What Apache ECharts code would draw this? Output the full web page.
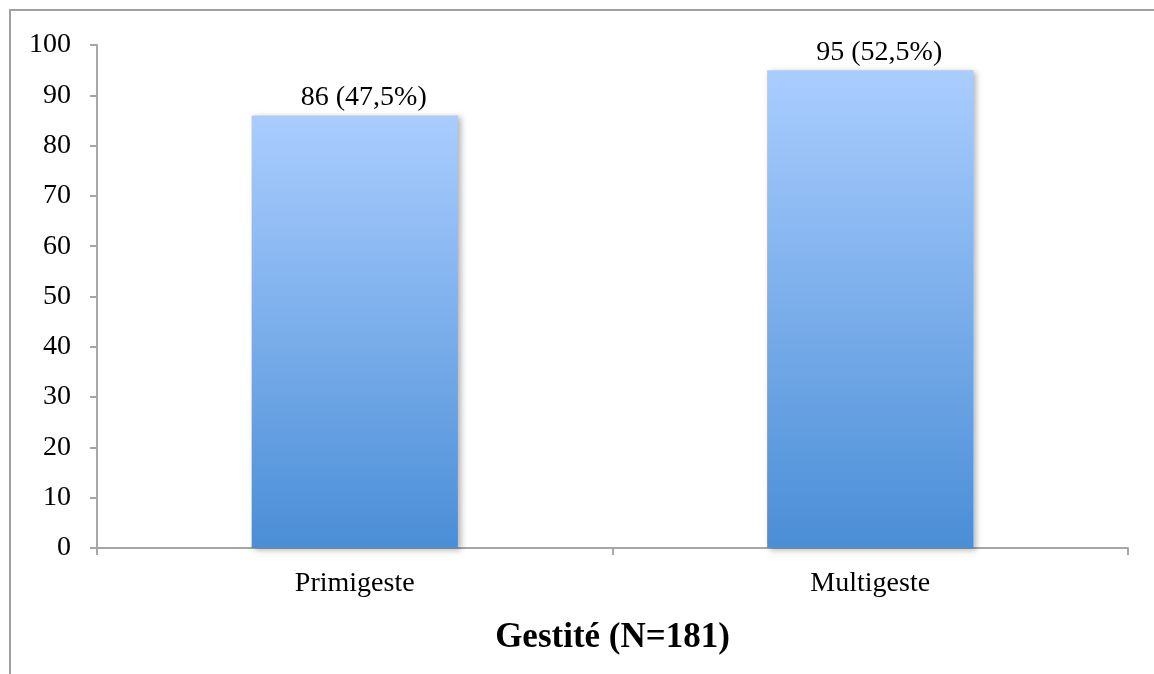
<!DOCTYPE html>
<html>
<head>
<meta charset="utf-8">
<script src="https://cdn.jsdelivr.net/npm/echarts@6/dist/echarts.min.js"></script>
<style>
  html, body { margin: 0; padding: 0; background: #fff; }
  #main { width: 1154px; height: 674px; }
</style>
</head>
<body>
<div id="main"></div>
<script>
    // données
    let categories = ['Primigeste', 'Multigeste'];
    let effectifs = [86, 95];
    let pourcentages = ['47,5%', '52,5%'];
    let yTicks = [0, 100, 10]; // min, max, interval
    let axisTitle = 'Gestité (N=181)';

    let fontFam = '"Liberation Serif", "DejaVu Serif", serif';
    let grey = '#a6a6a6';

    let myChart = echarts.init(document.getElementById('main'));
    let option = {
        backgroundColor: '#fff',
        animation: false,
        grid: { left: 97, right: 26, top: 45, bottom: 126 },
        graphic: [{
            type: 'rect',
            shape: { x: 10, y: 10, width: 1300, height: 800 },
            style: { fill: 'none', stroke: '#a0a0a0', lineWidth: 2 },
            silent: true
        }],
        xAxis: {
            type: 'category',
            data: categories,
            name: axisTitle,
            nameLocation: 'middle',
            nameGap: 72,
            nameTextStyle: { fontFamily: fontFam, fontSize: 35, fontWeight: 'bold', color: '#000' },
            axisLine: { lineStyle: { color: grey, width: 2 } },
            axisTick: { show: true, length: 7, lineStyle: { color: grey, width: 2 } },
            axisLabel: { fontFamily: fontFam, fontSize: 28, color: '#000', margin: 22 }
        },
        yAxis: {
            type: 'value',
            min: yTicks[0],
            max: yTicks[1],
            interval: yTicks[2],
            splitLine: { show: false },
            axisLine: { show: true, lineStyle: { color: grey, width: 2 } },
            axisTick: { show: true, length: 7, lineStyle: { color: grey, width: 2 } },
            axisLabel: { fontFamily: fontFam, fontSize: 28, color: '#000', margin: 26 }
        },
        series: [{
            type: 'bar',
            data: effectifs,
            barWidth: '40%',
            itemStyle: {
                color: {
                    type: 'linear', x: 0, y: 0, x2: 0, y2: 1,
                    colorStops: [
                        { offset: 0, color: '#aacdff' },
                        { offset: 1, color: '#4a8ed6' }
                    ]
                },
                shadowColor: 'rgba(0,0,0,0.3)',
                shadowBlur: 6,
                shadowOffsetX: 3,
                shadowOffsetY: 2
            },
            label: {
                show: true,
                position: 'top',
                distance: 4,
                offset: [9, 0],
                fontFamily: fontFam,
                fontSize: 28,
                color: '#000',
                formatter: function (p) {
                    return p.value + ' (' + pourcentages[p.dataIndex] + ')';
                }
            }
        }]
    };
    myChart.setOption(option);
</script>
</body>
</html>
